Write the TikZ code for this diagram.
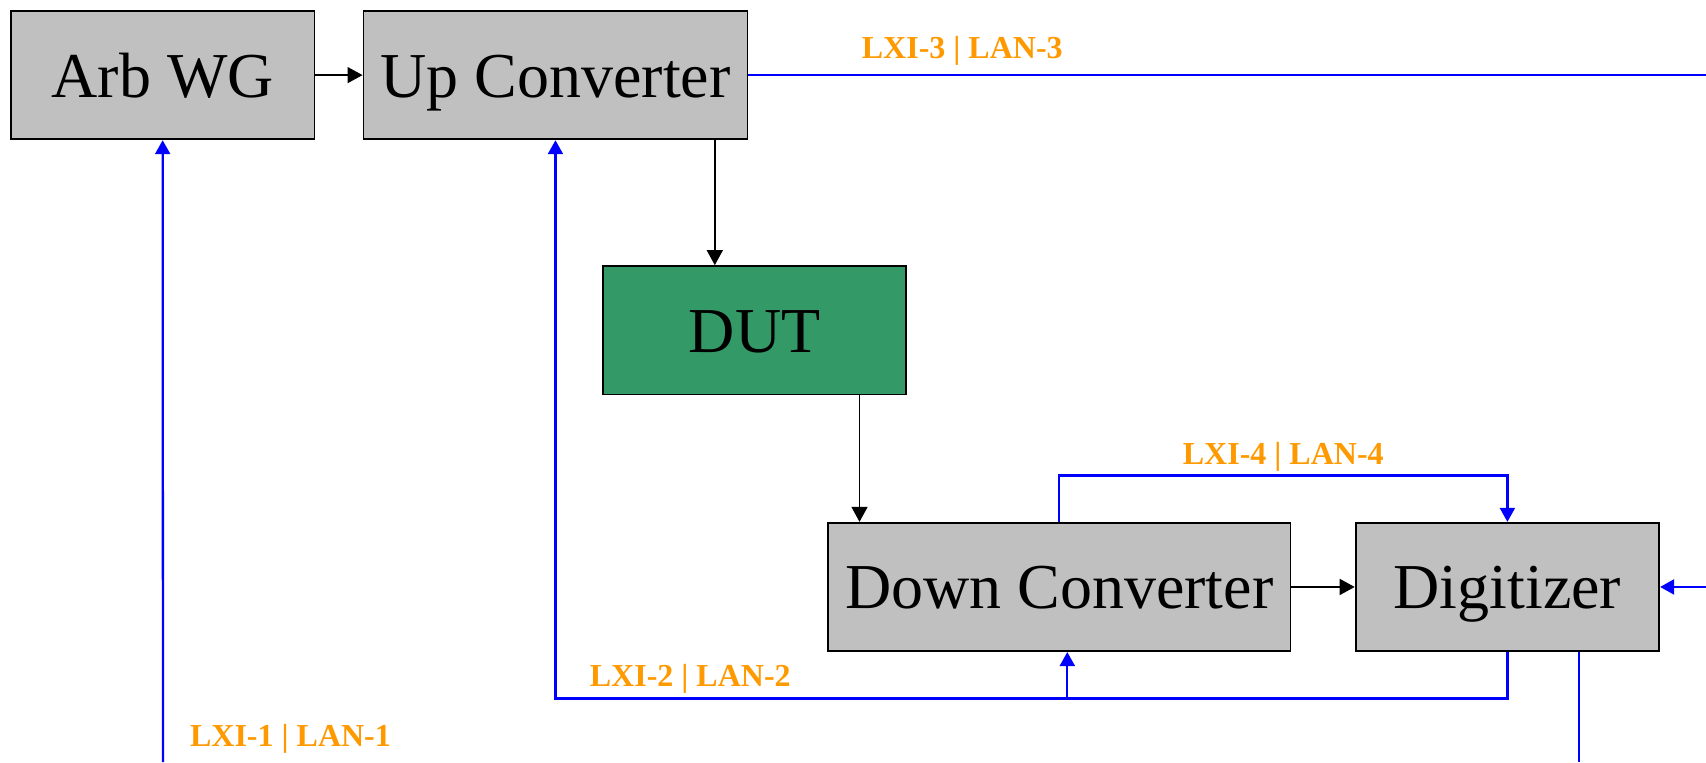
\documentclass[tikz,border=0pt]{standalone}
\usepackage{fontspec}
\setmainfont{Liberation Serif}
\usetikzlibrary{arrows.meta}
\definecolor{boxgray}{RGB}{192,192,192}
\definecolor{dutgreen}{RGB}{51,153,102}
\definecolor{lanorange}{RGB}{255,153,0}

\begin{document}
\begin{tikzpicture}[x=0.5pt, y=-0.5pt,
  main/.style = {draw, line width=0.9pt, fill=boxgray, minimum height=64.2pt, inner sep=0pt,
    font=\fontsize{32}{38}\selectfont, text height=27pt, text depth=5pt},
  sig/.style = {line width=0.7pt, -{Triangle[length=7.5pt,width=8pt]}},
  lan/.style = {blue, line width=1.15pt, -{Triangle[length=7pt,width=7.5pt]}},
  lanline/.style = {blue, line width=1.15pt},
  lanlabel/.style = {anchor=base, text=lanorange, font=\fontsize{16}{19}\selectfont\bfseries}]
    \useasboundingbox (0,0) rectangle (1706,762);

    \node[main, minimum width=151.75pt] (AWG) at (162.65,75.1) {Arb WG};
    \node[main, minimum width=192pt] (UC) at (555.45,75.1) {Up Converter};
    \node[main, minimum width=151.75pt, fill=dutgreen] (DUT) at (754.55,330.25) {DUT};
    \node[main, minimum width=231.2pt] (DC) at (1059.2,586.95) {Down Converter};
    \node[main, minimum width=151.8pt] (DIG) at (1507.4,586.95) {Digitizer};

    % signal chain
    \coordinate (upx) at (714.8,0);
    \coordinate (dutx) at (859.5,0);
    \draw[sig] (AWG) -- (UC);
    \draw[sig] (UC.south -| upx) -- (DUT.north -| upx);
    \draw[sig] (DUT.south -| dutx) -- (DC.north -| dutx);
    \draw[sig] (DC) -- (DIG);

    % LAN links
    \coordinate (lan1) at (163,762);
    \coordinate (lan3) at (1706,75.1);
    \coordinate (lanin) at (1706,586.95);
    \coordinate (lanout) at (1578.7,762);
    \coordinate (bus2) at (1067.3,698.5);
    \coordinate (bus4) at (0,475.5);

    \draw[lan] (lan1) -- (AWG.south);
    \draw[lanline] (UC.east) -- (lan3);
    \draw[lan] (DIG.south) -- (DIG.south |- bus2) -- (UC.south |- bus2) -- (UC.south);
    \draw[lan] (bus2) -- (DC.south -| bus2);
    \draw[lan] (DC.north) -- (DC.north |- bus4) -- (DIG.north |- bus4) -- (DIG.north);
    \draw[lan] (lanin) -- (DIG.east);
    \draw[lanline] (DIG.south -| lanout) -- (lanout);

    \node[lanlabel] (lab1) at (290.5,746.4) {LXI-1 | LAN-1};
    \node[lanlabel] (lab2) at (690.3,686.5) {LXI-2 | LAN-2};
    \node[lanlabel] (lab3) at (962.3,58.8) {LXI-3 | LAN-3};
    \node[lanlabel] (lab4) at (1283.3,464.6) {LXI-4 | LAN-4};
\end{tikzpicture}
\end{document}
